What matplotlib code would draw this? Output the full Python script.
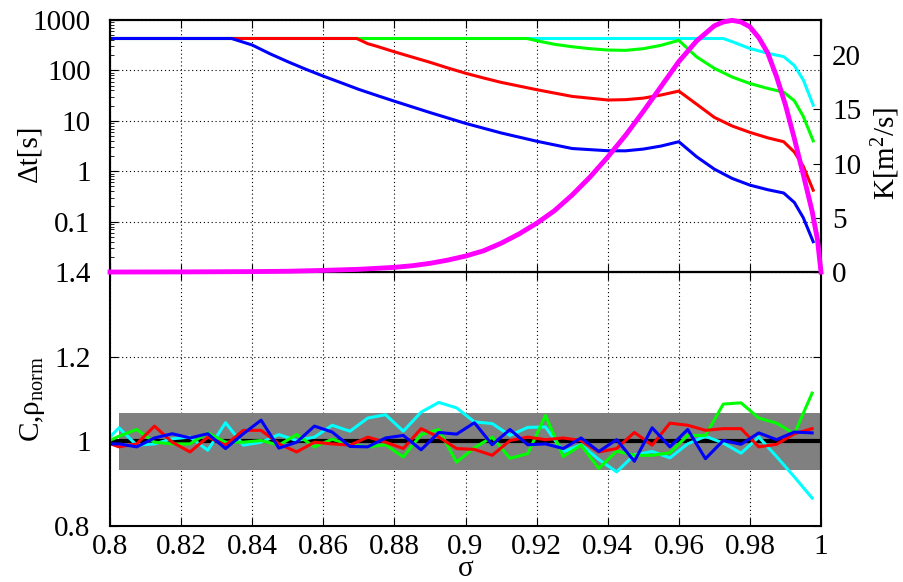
import matplotlib
matplotlib.use("Agg")
import matplotlib.pyplot as plt
import numpy as np
from matplotlib.ticker import FixedLocator, FuncFormatter, NullFormatter, LogLocator

plt.rcParams['font.family'] = ['Liberation Serif', 'DejaVu Serif']
plt.rcParams['mathtext.fontset'] = 'custom'
plt.rcParams['mathtext.rm'] = 'Liberation Serif'
plt.rcParams['mathtext.it'] = 'Liberation Serif:italic'

# ---- top panel: time step dt [s] (left, log) ----
sig_cyan = [0.80, 0.9725, 0.975, 0.98, 0.985, 0.9895, 0.9925, 0.995, 0.9978]
dt_cyan = [430, 430, 372, 272, 219, 188, 125, 65, 20.5]

sig_green = [0.80, 0.9173, 0.92, 0.925, 0.93, 0.935, 0.94, 0.945, 0.95, 0.955, 0.96,
             0.965, 0.97, 0.975, 0.98, 0.985, 0.9895, 0.9925, 0.995, 0.9978]
dt_green = [430, 430, 389, 330, 295, 270, 254, 250, 270, 315, 395,
            186, 110, 74, 55, 44, 37, 25, 12.3, 4.0]

sig_red = [0.80, 0.8694, 0.8725, 0.875, 0.88, 0.885, 0.89, 0.895, 0.90, 0.905, 0.91,
           0.92, 0.93, 0.94, 0.945, 0.95, 0.955, 0.96, 0.965, 0.97, 0.975, 0.98,
           0.985, 0.9895, 0.9925, 0.995, 0.9978]
dt_red = [430, 430, 339, 302, 234, 184, 145, 112, 88, 71, 58,
          41.5, 30.5, 25.9, 26.3, 28.2, 32.5, 38.9, 21.4, 11.7, 7.9, 5.9,
          4.6, 3.85, 2.4, 1.26, 0.42]

sig_blue = [0.80, 0.8342, 0.84, 0.845, 0.85, 0.855, 0.86, 0.865, 0.87, 0.875, 0.88,
            0.89, 0.90, 0.91, 0.92, 0.93, 0.94, 0.945, 0.95, 0.955, 0.96, 0.965,
            0.97, 0.975, 0.98, 0.985, 0.9895, 0.9925, 0.995, 0.9978]
dt_blue = [430, 430, 319, 214, 149, 106, 77, 57, 42, 32, 24.5,
           14.6, 8.9, 5.75, 3.94, 2.82, 2.55, 2.54, 2.75, 3.16, 3.85, 1.94,
           1.1, 0.72, 0.53, 0.43, 0.37, 0.24, 0.12, 0.040]

# ---- top panel: K [m^2/s] (right axis) ----
sig_k = [0.80, 0.82, 0.84, 0.85, 0.86, 0.87, 0.88, 0.885, 0.89, 0.895, 0.90, 0.905,
         0.91, 0.915, 0.92, 0.925, 0.93, 0.935, 0.94, 0.945, 0.95, 0.955, 0.96,
         0.965, 0.97, 0.9725, 0.975, 0.9775, 0.98, 0.9825, 0.985, 0.9875, 0.99,
         0.9925, 0.995, 0.9975, 0.999, 1.0]
k_val = [0.0, 0.01, 0.04, 0.07, 0.15, 0.25, 0.43, 0.58, 0.80, 1.10, 1.47, 1.95,
         2.65, 3.5, 4.49, 5.65, 7.1, 8.75, 10.6, 12.6, 14.8, 17.1, 19.4,
         21.3, 22.7, 23.05, 23.2, 23.05, 22.6, 21.6, 20.2, 18.0, 15.4,
         12.3, 9.0, 5.6, 3.0, 0.0]

# ---- bottom panel: C, rho_norm ----
sig_bins = np.linspace(0.7975, 0.9975, 41)
c_cyan = [0.988, 1.032, 0.991, 0.994, 1.006, 1.010, 0.979, 1.044, 0.991, 0.998, 1.016,
          1.002, 1.010, 1.038, 1.024, 1.055, 1.063, 1.024, 1.069, 1.092, 1.079,
          1.046, 1.042, 1.014, 1.033, 1.034, 0.975, 0.992, 0.957, 0.928, 0.968,
          0.976, 0.961, 0.994, 1.012, 0.996, 0.972, 1.010, 0.964, 0.916, 0.866]
c_green = [0.993, 1.012, 1.028, 0.998, 0.994, 0.994, 1.020, 0.998, 0.998, 1.002, 0.991,
           1.016, 0.987, 1.005, 0.992, 0.987, 0.992, 0.963, 1.016, 1.028, 0.951,
           0.985, 1.010, 0.960, 0.971, 1.061, 0.964, 0.991, 0.936, 0.977, 0.967,
           0.967, 0.973, 1.014, 1.014, 1.088, 1.091, 1.055, 1.043, 1.018, 1.114]
c_red = [1.002, 0.987, 0.994, 1.036, 0.998, 0.975, 1.010, 0.991, 1.026, 1.026, 0.994,
         0.975, 0.998, 0.994, 0.991, 1.010, 0.998, 0.983, 1.030, 1.010, 0.983,
         0.981, 0.967, 1.002, 1.010, 1.004, 1.008, 1.002, 0.975, 0.983, 1.021,
         0.991, 1.043, 1.038, 1.026, 1.030, 1.030, 0.987, 0.993, 1.018, 1.030]
c_blue = [0.994, 0.994, 0.987, 1.008, 1.018, 1.008, 1.018, 0.983, 1.018, 1.050, 0.984,
          0.998, 1.036, 1.022, 0.988, 0.987, 1.008, 1.014, 0.980, 1.021, 1.017,
          1.044, 0.992, 1.028, 0.992, 0.994, 0.983, 1.008, 0.976, 1.004, 0.953,
          1.032, 0.987, 1.028, 0.959, 1.002, 0.993, 1.020, 1.004, 1.022, 1.020]
band_lo, band_hi = 0.932, 1.067
band_sig = [0.8025, 1.0]

xticks = [0.8, 0.82, 0.84, 0.86, 0.88, 0.9, 0.92, 0.94, 0.96, 0.98, 1.0]

fs = 21
grid_kw = dict(color='black', linestyle=(0, (1, 2.5)), linewidth=0.8)
fmt = FuncFormatter(lambda v, p: '%g' % round(v, 4))

fig = plt.figure(figsize=(9.04, 5.82), dpi=100)
ax1 = fig.add_axes([0.1217, 0.5326, 0.7865, 0.433])
ax2 = fig.add_axes([0.1217, 0.0962, 0.7865, 0.4364])
axk = ax1.twinx()

# top panel
ax1.plot(sig_cyan, dt_cyan, color='#00ffff', lw=2.2)
ax1.plot(sig_green, dt_green, color='#00ff00', lw=2.2)
ax1.plot(sig_red, dt_red, color='#ff0000', lw=2.2)
ax1.plot(sig_blue, dt_blue, color='#0000ff', lw=2.2)
ax1.set_yscale('log')
ax1.set_ylim(0.01, 1000)
ax1.set_xlim(0.8, 1.0)
ax1.set_yticks([0.1, 1, 10, 100, 1000])
ax1.yaxis.set_major_formatter(fmt)
ax1.yaxis.set_minor_locator(LogLocator(base=10, subs=np.arange(2, 10)))
ax1.yaxis.set_minor_formatter(NullFormatter())
ax1.xaxis.set_major_locator(FixedLocator(xticks))
ax1.xaxis.set_major_formatter(NullFormatter())
ax1.grid(True, which='major', **grid_kw)
ax1.tick_params(axis='both', which='both', direction='in', labelsize=fs)
ax1.tick_params(axis='y', which='major', length=6, pad=14)
ax1.tick_params(axis='y', which='minor', length=3)
ax1.tick_params(axis='x', length=6, top=True)
ax1.tick_params(axis='y', right=False, which='both')
ax1.set_ylabel('Δt[s]', fontsize=fs)
ax1.yaxis.set_label_coords(-0.095, 0.47)

axk.plot(sig_k, k_val, color='#ff00ff', lw=3.5, clip_on=False, zorder=5)
axk.set_ylim(0, 23.23)
axk.set_yticks([0, 5, 10, 15, 20])
axk.tick_params(axis='y', direction='in', length=6, labelsize=fs, pad=8)
axk.set_ylabel('K[m$^2$/s]', fontsize=fs)
axk.yaxis.set_label_coords(1.068, 0.47)

# bottom panel
ax2.fill_between(band_sig, band_lo, band_hi, color='#808080', lw=0)
ax2.plot([0.8, 1.0], [1.0, 1.0], color='black', lw=3)
ax2.plot(sig_bins, c_cyan, color='#00ffff', lw=2.2)
ax2.plot(sig_bins, c_green, color='#00ff00', lw=2.2)
ax2.plot(sig_bins, c_red, color='#ff0000', lw=2.2)
ax2.plot(sig_bins, c_blue, color='#0000ff', lw=2.2)
ax2.set_xlim(0.8, 1.0)
ax2.set_ylim(0.8, 1.4)
ax2.set_yticks([0.8, 1.0, 1.2, 1.4])
ax2.yaxis.set_major_formatter(fmt)
ax2.xaxis.set_major_locator(FixedLocator(xticks))
ax2.xaxis.set_major_formatter(fmt)
ax2.grid(True, **grid_kw)
ax2.set_axisbelow(True)
ax2.tick_params(axis='both', direction='in', length=6, labelsize=fs, top=True, right=True)
ax2.tick_params(axis='y', pad=14)
ax2.tick_params(axis='x', pad=6)
ax2.set_ylabel('C,ρ$_{\\mathrm{norm}}$', fontsize=fs)
ax2.yaxis.set_label_coords(-0.088, 0.5)
ax2.set_xlabel('σ', fontsize=fs)
ax2.xaxis.labelpad = -3
ax2.patch.set_visible(False)

for a in (ax1, ax2, axk):
    for s in a.spines.values():
        s.set_linewidth(1.5)

fig.savefig('out.png', dpi=100)
